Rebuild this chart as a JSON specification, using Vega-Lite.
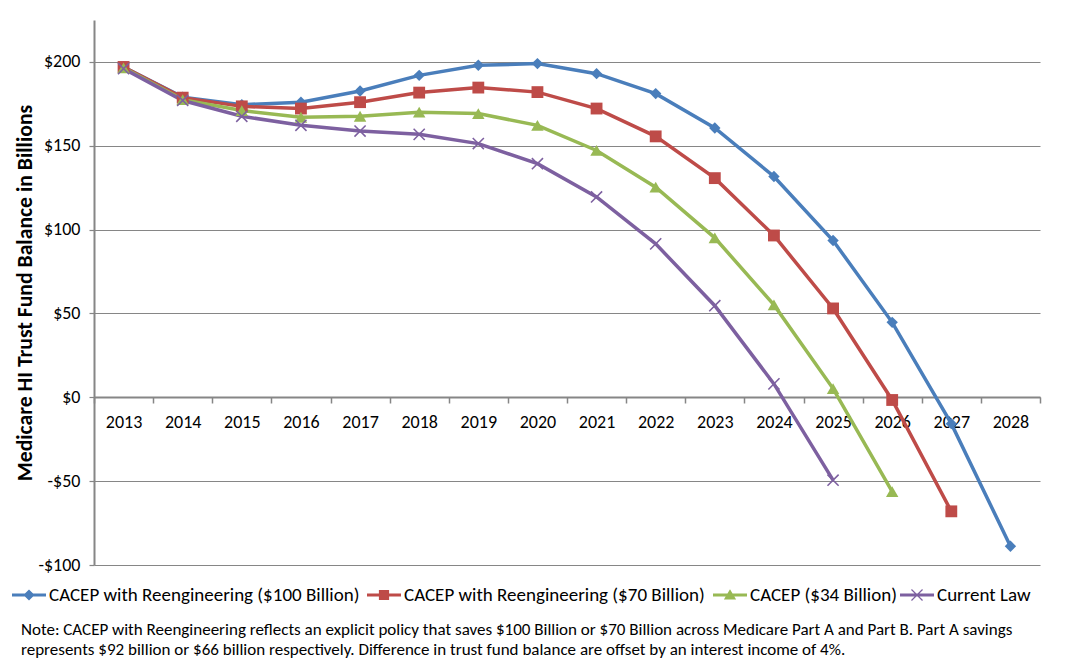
{
  "$schema": "https://vega.github.io/schema/vega-lite/v6.json",
  "width": 946,
  "height": 545,
  "autosize": {"type": "none"},
  "padding": {"left": 94, "top": 20, "right": 29, "bottom": 102},
  "background": "white",
  "config": {"font": "Carlito, Lato, sans-serif", "view": {"stroke": null}},
  "title": {
    "text": ["Note: CACEP with Reengineering reflects an explicit policy that saves $100 Billion or $70 Billion across Medicare Part A and Part B. Part A savings", "represents $92 billion or $66 billion respectively. Difference in trust fund balance are offset by an interest income of 4%."],
    "orient": "bottom",
    "anchor": "start",
    "frame": "bounds",
    "fontSize": 17,
    "fontWeight": "normal",
    "color": "black",
    "lineHeight": 20,
    "offset": 17,
    "dx": 9
  },
  "data": {"values": [
    {"year": "2013", "series": "CACEP with Reengineering  ($100 Billion)", "value": 197},
    {"year": "2014", "series": "CACEP with Reengineering  ($100 Billion)", "value": 179},
    {"year": "2015", "series": "CACEP with Reengineering  ($100 Billion)", "value": 174.5},
    {"year": "2016", "series": "CACEP with Reengineering  ($100 Billion)", "value": 176},
    {"year": "2017", "series": "CACEP with Reengineering  ($100 Billion)", "value": 182.7},
    {"year": "2018", "series": "CACEP with Reengineering  ($100 Billion)", "value": 192},
    {"year": "2019", "series": "CACEP with Reengineering  ($100 Billion)", "value": 198},
    {"year": "2020", "series": "CACEP with Reengineering  ($100 Billion)", "value": 199},
    {"year": "2021", "series": "CACEP with Reengineering  ($100 Billion)", "value": 193},
    {"year": "2022", "series": "CACEP with Reengineering  ($100 Billion)", "value": 181.1},
    {"year": "2023", "series": "CACEP with Reengineering  ($100 Billion)", "value": 160.6},
    {"year": "2024", "series": "CACEP with Reengineering  ($100 Billion)", "value": 131.7},
    {"year": "2025", "series": "CACEP with Reengineering  ($100 Billion)", "value": 93.5},
    {"year": "2026", "series": "CACEP with Reengineering  ($100 Billion)", "value": 44.7},
    {"year": "2027", "series": "CACEP with Reengineering  ($100 Billion)", "value": -15.7},
    {"year": "2028", "series": "CACEP with Reengineering  ($100 Billion)", "value": -88.8},
    {"year": "2013", "series": "CACEP with Reengineering  ($70 Billion)", "value": 197},
    {"year": "2014", "series": "CACEP with Reengineering  ($70 Billion)", "value": 178.7},
    {"year": "2015", "series": "CACEP with Reengineering  ($70 Billion)", "value": 173.5},
    {"year": "2016", "series": "CACEP with Reengineering  ($70 Billion)", "value": 172.2},
    {"year": "2017", "series": "CACEP with Reengineering  ($70 Billion)", "value": 176},
    {"year": "2018", "series": "CACEP with Reengineering  ($70 Billion)", "value": 181.7},
    {"year": "2019", "series": "CACEP with Reengineering  ($70 Billion)", "value": 184.7},
    {"year": "2020", "series": "CACEP with Reengineering  ($70 Billion)", "value": 182},
    {"year": "2021", "series": "CACEP with Reengineering  ($70 Billion)", "value": 172.2},
    {"year": "2022", "series": "CACEP with Reengineering  ($70 Billion)", "value": 155.6},
    {"year": "2023", "series": "CACEP with Reengineering  ($70 Billion)", "value": 130.7},
    {"year": "2024", "series": "CACEP with Reengineering  ($70 Billion)", "value": 96.5},
    {"year": "2025", "series": "CACEP with Reengineering  ($70 Billion)", "value": 53},
    {"year": "2026", "series": "CACEP with Reengineering  ($70 Billion)", "value": -1.6},
    {"year": "2027", "series": "CACEP with Reengineering  ($70 Billion)", "value": -68},
    {"year": "2013", "series": "CACEP ($34 Billion)", "value": 196.5},
    {"year": "2014", "series": "CACEP ($34 Billion)", "value": 177.5},
    {"year": "2015", "series": "CACEP ($34 Billion)", "value": 171},
    {"year": "2016", "series": "CACEP ($34 Billion)", "value": 167},
    {"year": "2017", "series": "CACEP ($34 Billion)", "value": 167.6},
    {"year": "2018", "series": "CACEP ($34 Billion)", "value": 170},
    {"year": "2019", "series": "CACEP ($34 Billion)", "value": 169.2},
    {"year": "2020", "series": "CACEP ($34 Billion)", "value": 162.2},
    {"year": "2021", "series": "CACEP ($34 Billion)", "value": 147.2},
    {"year": "2022", "series": "CACEP ($34 Billion)", "value": 125.3},
    {"year": "2023", "series": "CACEP ($34 Billion)", "value": 95.1},
    {"year": "2024", "series": "CACEP ($34 Billion)", "value": 55.1},
    {"year": "2025", "series": "CACEP ($34 Billion)", "value": 5.2},
    {"year": "2026", "series": "CACEP ($34 Billion)", "value": -56.3},
    {"year": "2013", "series": "Current Law", "value": 196},
    {"year": "2014", "series": "Current Law", "value": 177},
    {"year": "2015", "series": "Current Law", "value": 167.6},
    {"year": "2016", "series": "Current Law", "value": 162.2},
    {"year": "2017", "series": "Current Law", "value": 158.8},
    {"year": "2018", "series": "Current Law", "value": 156.8},
    {"year": "2019", "series": "Current Law", "value": 151.3},
    {"year": "2020", "series": "Current Law", "value": 139.3},
    {"year": "2021", "series": "Current Law", "value": 119.5},
    {"year": "2022", "series": "Current Law", "value": 91.5},
    {"year": "2023", "series": "Current Law", "value": 54.6},
    {"year": "2024", "series": "Current Law", "value": 8},
    {"year": "2025", "series": "Current Law", "value": -49.4}
  ]},
  "encoding": {
    "x": {
      "field": "year", "type": "ordinal", "bandPosition": 0.5,
      "scale": {"type": "band", "paddingInner": 0, "paddingOuter": 0},
      "axis": {
        "title": null, "offset": -168, "labelAngle": 0,
        "domainColor": "#868686", "domainWidth": 2,
        "tickColor": "#868686", "tickWidth": 1.5, "tickSize": 6, "tickBand": "extent",
        "labelFontSize": 18, "labelColor": "black", "labelPadding": 10, "grid": false
      }
    },
    "y": {
      "field": "value", "type": "quantitative",
      "scale": {"domain": [-100, 225], "nice": false, "zero": false},
      "axis": {
        "title": "Medicare HI Trust Fund Balance in Billions",
        "titleFontSize": 21.7, "titleFontWeight": "bold", "titleColor": "black", "titlePadding": 1,
        "values": [-100, -50, 0, 50, 100, 150, 200],
        "labelExpr": "datum.value < 0 ? '-$' + format(-datum.value, 'd') : '$' + format(datum.value, 'd')",
        "labelFontSize": 18, "labelColor": "black", "labelPadding": 9,
        "domainColor": "#868686", "domainWidth": 2,
        "tickColor": "#868686", "tickSize": 5, "tickWidth": 1.2,
        "grid": true, "gridColor": "#868686", "gridWidth": 1.2
      }
    }
  },
  "layer": [
    {
      "mark": {"type": "line", "strokeWidth": 3.5},
      "encoding": {
        "color": {
          "field": "series", "type": "nominal",
          "scale": {
            "domain": ["CACEP with Reengineering  ($100 Billion)", "CACEP with Reengineering  ($70 Billion)", "CACEP ($34 Billion)", "Current Law"],
            "range": ["#4A7EBB", "#BE4B48", "#98B954", "#7D60A0"]
          },
          "legend": {
            "title": null, "orient": "none", "legendX": -82, "legendY": 558,
            "direction": "horizontal", "labelFontSize": 19, "labelColor": "black",
            "labelLimit": 500, "symbolSize": 1156, "labelOffset": 3, "columnPadding": 3,
            "encode": {
              "symbols": {
                "update": {
                  "shape": {"signal": "indexof(datum.value, 'Current') >= 0 ? 'M-1,-0.09H1V0.09H-1ZM-0.3,-0.35L0.35,0.3L0.3,0.35L-0.35,-0.3ZM0.3,-0.35L0.35,-0.3L-0.3,0.35L-0.35,0.3Z' : indexof(datum.value, '$34') >= 0 ? 'M-1,-0.09H1V0.09H-1ZM0,-0.34L0.36,0.26H-0.36Z' : indexof(datum.value, '$70') >= 0 ? 'M-1,-0.09H1V0.09H-1ZM-0.3,-0.3H0.3V0.3H-0.3Z' : 'M-1,-0.09H1V0.09H-1ZM0,-0.33L0.33,0L0,0.33L-0.33,0Z'"},
                  "fill": {"signal": "scale('color', datum.value)"},
                  "strokeWidth": {"value": 0},
                  "opacity": {"value": 1},
                  "size": {"value": 1156}
                }
              }
            }
          }
        }
      }
    },
    {
      "transform": [{"filter": {"field": "series", "equal": "CACEP with Reengineering  ($100 Billion)"}}],
      "mark": {"type": "point", "filled": true, "opacity": 1, "shape": "diamond", "size": 130, "color": "#4A7EBB"}
    },
    {
      "transform": [{"filter": {"field": "series", "equal": "CACEP with Reengineering  ($70 Billion)"}}],
      "mark": {"type": "point", "filled": true, "opacity": 1, "shape": "square", "size": 140, "color": "#BE4B48"}
    },
    {
      "transform": [{"filter": {"field": "series", "equal": "CACEP ($34 Billion)"}}],
      "mark": {"type": "point", "filled": true, "opacity": 1, "shape": "triangle-up", "size": 155, "color": "#98B954"}
    },
    {
      "transform": [{"filter": {"field": "series", "equal": "Current Law"}}],
      "mark": {"type": "point", "filled": true, "opacity": 1, "shape": "M-0.82,-1L1,0.82L0.82,1L-1,-0.82ZM0.82,-1L1,-0.82L-0.82,1L-1,0.82Z", "size": 150, "color": "#7D60A0"}
    }
  ]
}
